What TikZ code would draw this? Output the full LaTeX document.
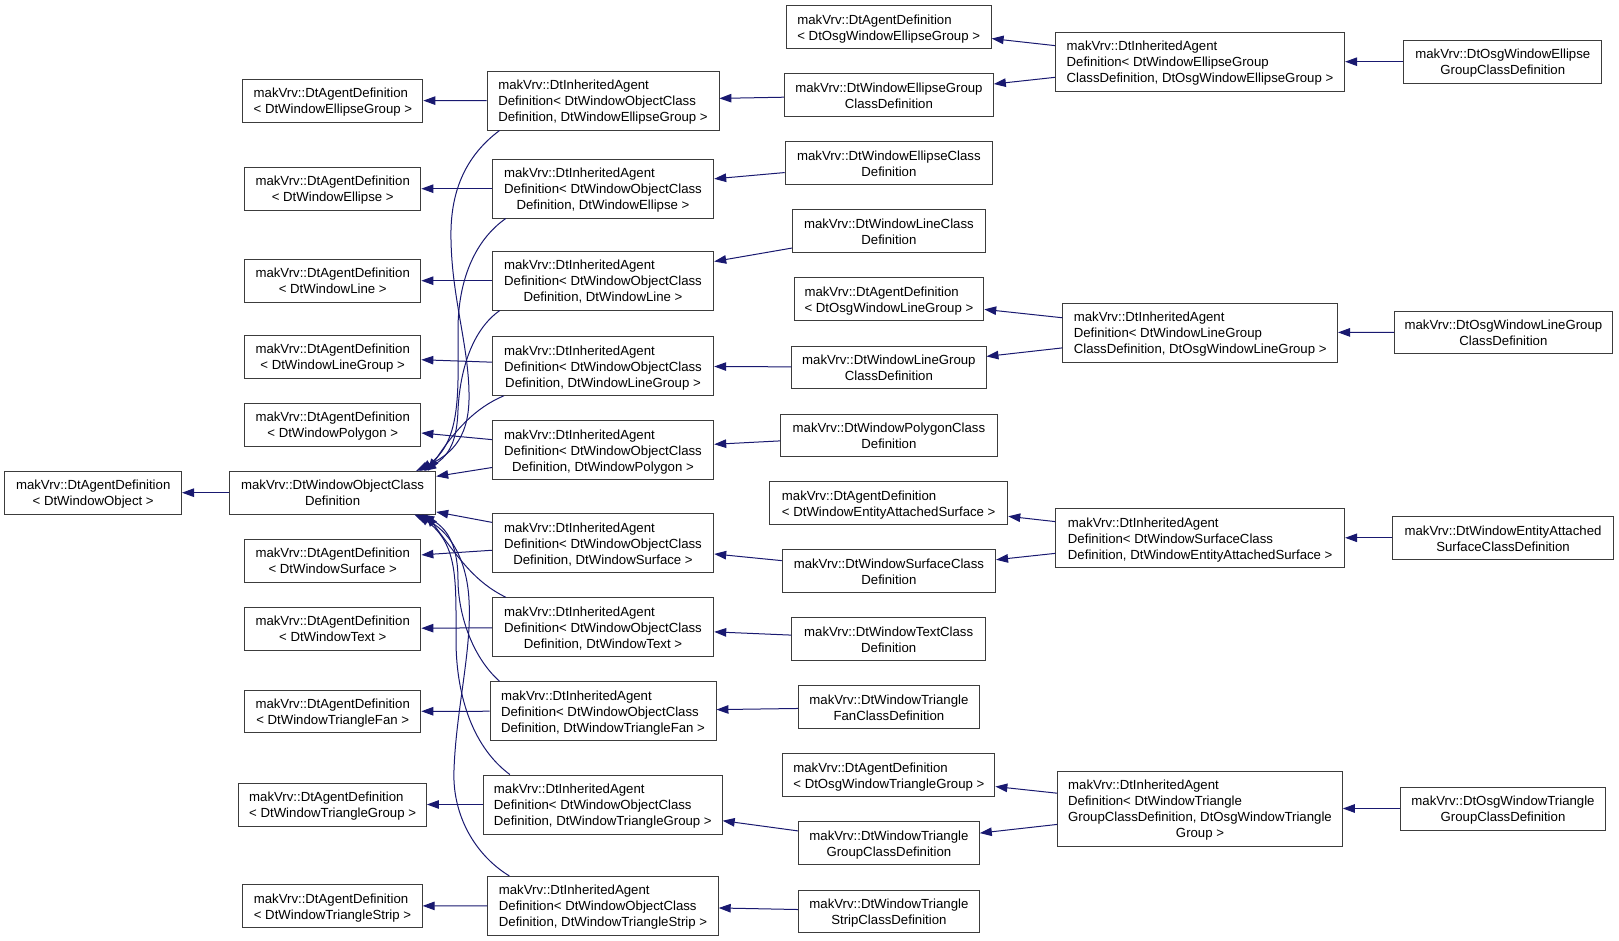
\documentclass[tikz,border=0pt]{standalone}
\usepackage{fontspec}
\setmainfont{Liberation Sans}
\usetikzlibrary{arrows.meta,calc}
\definecolor{mblue}{RGB}{25,25,112}
\definecolor{bord}{RGB}{60,60,60}
\newcommand{\lb}[2]{\raisebox{-2pt}[\height][\depth]{\begin{tabular}{@{}l@{}}#1\\\multicolumn{1}{@{}c@{}}{#2}\end{tabular}}}
\begin{document}
\begin{tikzpicture}[x=1pt,y=-1pt,
  box/.style={draw=bord, line width=0.9pt, fill=white, inner sep=0pt, font=\fontsize{13.2}{16}\selectfont},
  edge/.style={draw=mblue, line width=1pt, -{Triangle[length=12pt,width=8.5pt]}}]
\path[fill=white] (0,0) rectangle (1619,941);
\useasboundingbox (0,0) rectangle (1619,941);
% column 0 / 1
\node[box, minimum width=176.7pt, minimum height=42.7pt] (n0) at (93.2,492.7) {\lb{makVrv::DtAgentDefinition}{< DtWindowObject >}};
\node[box, minimum width=206.3pt, minimum height=42.7pt] (base) at (332.6,492.7) {\lb{makVrv::DtWindowObjectClass}{Definition}};
\node[box, minimum width=180pt, minimum height=42.7pt] (ageg) at (332.9,100.7) {\lb{makVrv::DtAgentDefinition}{< DtWindowEllipseGroup >}};
\node[box, minimum width=176.4pt, minimum height=42.7pt] (age) at (332.7,188.7) {\lb{makVrv::DtAgentDefinition}{< DtWindowEllipse >}};
\node[box, minimum width=176.4pt, minimum height=42.7pt] (agl) at (332.7,280.7) {\lb{makVrv::DtAgentDefinition}{< DtWindowLine >}};
\node[box, minimum width=176.4pt, minimum height=42.7pt] (aglg) at (332.7,356.7) {\lb{makVrv::DtAgentDefinition}{< DtWindowLineGroup >}};
\node[box, minimum width=176.4pt, minimum height=42.7pt] (agp) at (332.7,424.7) {\lb{makVrv::DtAgentDefinition}{< DtWindowPolygon >}};
\node[box, minimum width=176.4pt, minimum height=42.7pt] (ags) at (332.7,560.7) {\lb{makVrv::DtAgentDefinition}{< DtWindowSurface >}};
\node[box, minimum width=176.4pt, minimum height=42.7pt] (agt) at (332.7,628.7) {\lb{makVrv::DtAgentDefinition}{< DtWindowText >}};
\node[box, minimum width=176.4pt, minimum height=42.7pt] (agtf) at (332.7,711.3) {\lb{makVrv::DtAgentDefinition}{< DtWindowTriangleFan >}};
\node[box, minimum width=187.7pt, minimum height=43pt] (agtg) at (332.6,804.5) {\lb{makVrv::DtAgentDefinition}{< DtWindowTriangleGroup >}};
\node[box, minimum width=179.4pt, minimum height=42.7pt] (agts) at (332.5,906) {\lb{makVrv::DtAgentDefinition}{< DtWindowTriangleStrip >}};
% column 2
\node[box, minimum width=231.9pt, minimum height=59pt] (iaeg) at (603,100.5) {\lb{makVrv::DtInheritedAgent\\Definition< DtWindowObjectClass}{Definition, DtWindowEllipseGroup >}};
\node[box, minimum width=221.5pt, minimum height=58.7pt] (iae) at (603,188.7) {\lb{makVrv::DtInheritedAgent\\Definition< DtWindowObjectClass}{Definition, DtWindowEllipse >}};
\node[box, minimum width=221.5pt, minimum height=58.7pt] (ial) at (603,280.7) {\lb{makVrv::DtInheritedAgent\\Definition< DtWindowObjectClass}{Definition, DtWindowLine >}};
\node[box, minimum width=221.5pt, minimum height=58.7pt] (ialg) at (603,366) {\lb{makVrv::DtInheritedAgent\\Definition< DtWindowObjectClass}{Definition, DtWindowLineGroup >}};
\node[box, minimum width=221.5pt, minimum height=58.7pt] (iap) at (603,450) {\lb{makVrv::DtInheritedAgent\\Definition< DtWindowObjectClass}{Definition, DtWindowPolygon >}};
\node[box, minimum width=221.5pt, minimum height=59.4pt] (ias) at (603,543) {\lb{makVrv::DtInheritedAgent\\Definition< DtWindowObjectClass}{Definition, DtWindowSurface >}};
\node[box, minimum width=221.5pt, minimum height=59pt] (iat) at (603,627.2) {\lb{makVrv::DtInheritedAgent\\Definition< DtWindowObjectClass}{Definition, DtWindowText >}};
\node[box, minimum width=226pt, minimum height=59pt] (iatf) at (603,711.2) {\lb{makVrv::DtInheritedAgent\\Definition< DtWindowObjectClass}{Definition, DtWindowTriangleFan >}};
\node[box, minimum width=238.9pt, minimum height=59pt] (iatg) at (602.8,804.5) {\lb{makVrv::DtInheritedAgent\\Definition< DtWindowObjectClass}{Definition, DtWindowTriangleGroup >}};
\node[box, minimum width=230.5pt, minimum height=58.7pt] (iats) at (603,905.7) {\lb{makVrv::DtInheritedAgent\\Definition< DtWindowObjectClass}{Definition, DtWindowTriangleStrip >}};
% column 3
\node[box, minimum width=204.9pt, minimum height=43pt] (agoeg) at (888.7,27.2) {\lb{makVrv::DtAgentDefinition}{< DtOsgWindowEllipseGroup >}};
\node[box, minimum width=209pt, minimum height=42.7pt] (ceg) at (888.9,95.3) {\lb{makVrv::DtWindowEllipseGroup}{ClassDefinition}};
\node[box, minimum width=207.5pt, minimum height=42.7pt] (ce) at (888.9,163.3) {\lb{makVrv::DtWindowEllipseClass}{Definition}};
\node[box, minimum width=192.7pt, minimum height=42.7pt] (cl) at (888.9,231.3) {\lb{makVrv::DtWindowLineClass}{Definition}};
\node[box, minimum width=189.7pt, minimum height=43pt] (agolg) at (888.9,299.2) {\lb{makVrv::DtAgentDefinition}{< DtOsgWindowLineGroup >}};
\node[box, minimum width=194.2pt, minimum height=42.7pt] (clg) at (888.9,367.3) {\lb{makVrv::DtWindowLineGroup}{ClassDefinition}};
\node[box, minimum width=216.3pt, minimum height=42.7pt] (cp) at (888.9,435.3) {\lb{makVrv::DtWindowPolygonClass}{Definition}};
\node[box, minimum width=238.2pt, minimum height=42.7pt] (ageas) at (888.7,503) {\lb{makVrv::DtAgentDefinition}{< DtWindowEntityAttachedSurface >}};
\node[box, minimum width=213.4pt, minimum height=43pt] (cs) at (888.9,571.2) {\lb{makVrv::DtWindowSurfaceClass}{Definition}};
\node[box, minimum width=193.8pt, minimum height=43pt] (ct) at (888.7,639.2) {\lb{makVrv::DtWindowTextClass}{Definition}};
\node[box, minimum width=180.9pt, minimum height=43pt] (ctf) at (888.9,707.2) {\lb{makVrv::DtWindowTriangle}{FanClassDefinition}};
\node[box, minimum width=212pt, minimum height=43pt] (agotg) at (888.9,775.2) {\lb{makVrv::DtAgentDefinition}{< DtOsgWindowTriangleGroup >}};
\node[box, minimum width=180.9pt, minimum height=43pt] (ctg) at (888.9,843.2) {\lb{makVrv::DtWindowTriangle}{GroupClassDefinition}};
\node[box, minimum width=180.9pt, minimum height=42.7pt] (cts) at (888.9,911.3) {\lb{makVrv::DtWindowTriangle}{StripClassDefinition}};
% column 4
\node[box, minimum width=289.3pt, minimum height=58.7pt] (iaoeg) at (1200,61.7) {\lb{makVrv::DtInheritedAgent\\Definition< DtWindowEllipseGroup}{ClassDefinition, DtOsgWindowEllipseGroup >}};
\node[box, minimum width=274.7pt, minimum height=59pt] (iaolg) at (1200.2,332.5) {\lb{makVrv::DtInheritedAgent\\Definition< DtWindowLineGroup}{ClassDefinition, DtOsgWindowLineGroup >}};
\node[box, minimum width=288.9pt, minimum height=59pt] (iaeas) at (1200.2,537.8) {\lb{makVrv::DtInheritedAgent\\Definition< DtWindowSurfaceClass}{Definition, DtWindowEntityAttachedSurface >}};
\node[box, minimum width=284.7pt, minimum height=75pt] (iaotg) at (1200,808.5) {\lb{makVrv::DtInheritedAgent\\Definition< DtWindowTriangle\\GroupClassDefinition, DtOsgWindowTriangle}{Group >}};
% column 5
\node[box, minimum width=197.8pt, minimum height=42.7pt] (coeg) at (1502.8,61.7) {\lb{makVrv::DtOsgWindowEllipse}{GroupClassDefinition}};
\node[box, minimum width=217.9pt, minimum height=42.7pt] (colg) at (1503.4,332.3) {\lb{makVrv::DtOsgWindowLineGroup}{ClassDefinition}};
\node[box, minimum width=220.3pt, minimum height=43pt] (ceas) at (1503,537.8) {\lb{makVrv::DtWindowEntityAttached}{SurfaceClassDefinition}};
\node[box, minimum width=204.5pt, minimum height=43pt] (cotg) at (1503,808.5) {\lb{makVrv::DtOsgWindowTriangle}{GroupClassDefinition}};
% straight edges
\draw[edge] (base) -- (n0);
\draw[edge] (iaeg) -- (ageg);
\draw[edge] (iae) -- (age);
\draw[edge] (ial) -- (agl);
\draw[edge] (ialg) -- (aglg);
\draw[edge] (iap) -- (agp);
\draw[edge] (ias) -- (ags);
\draw[edge] (iat) -- (agt);
\draw[edge] (iatf) -- (agtf);
\draw[edge] (iatg) -- (agtg);
\draw[edge] (iats) -- (agts);
\draw[edge] (iap) -- (base);
\draw[edge] (ias) -- (base);
\draw[edge] (ceg) -- (iaeg);
\draw[edge] (ce) -- (iae);
\draw[edge] (cl) -- (ial);
\draw[edge] (clg) -- (ialg);
\draw[edge] (cp) -- (iap);
\draw[edge] (cs) -- (ias);
\draw[edge] (ct) -- (iat);
\draw[edge] (ctf) -- (iatf);
\draw[edge] (ctg) -- (iatg);
\draw[edge] (cts) -- (iats);
\draw[edge] (iaoeg) -- (agoeg);
\draw[edge] (iaoeg) -- (ceg);
\draw[edge] (coeg) -- (iaoeg);
\draw[edge] (iaolg) -- (agolg);
\draw[edge] (iaolg) -- (clg);
\draw[edge] (colg) -- (iaolg);
\draw[edge] (iaeas) -- (ageas);
\draw[edge] (iaeas) -- (cs);
\draw[edge] (ceas) -- (iaeas);
\draw[edge] (iaotg) -- (agotg);
\draw[edge] (iaotg) -- (ctg);
\draw[edge] (cotg) -- (iaotg);
% curved edges to base (upper)
\draw[edge] ($(iaeg.south west)+(13,0)$) .. controls (460,160) and (450,200) .. (451,240) .. controls (452,300) and (470,350) .. (469,400) .. controls (468,440) and (450,455) .. ($(base.north east)+(-20,0)$);
\draw[edge] ($(iae.south west)+(14,0)$) .. controls (475,240) and (458,280) .. (458,330) .. controls (458,390) and (462,440) .. ($(base.north east)+(-16,0)$);
\draw[edge] ($(ial.south west)+(8,0)$) .. controls (472,330) and (460,370) .. (458,410) .. controls (457,440) and (450,455) .. ($(base.north east)+(-12,0)$);
\draw[edge] ($(ialg.south west)+(12,0)$) .. controls (475,408) and (455,430) .. ($(base.north east)+(-8,0)$);
% curved edges to base (lower)
\draw[edge] ($(iat.north west)+(14,0)$) .. controls (475,582) and (460,560) .. ($(base.south east)+(-10,0)$);
\draw[edge] ($(iatf.north west)+(10,0)$) .. controls (470,655) and (458,610) .. (458,580) .. controls (458,550) and (450,530) .. ($(base.south east)+(-14,0)$);
\draw[edge] ($(iatg.north west)+(27,0)$) .. controls (470,745) and (456,690) .. (456,640) .. controls (456,580) and (458,545) .. ($(base.south east)+(-18,0)$);
\draw[edge] ($(iats.north west)+(22,0)$) .. controls (475,855) and (452,815) .. (454,770) .. controls (456,710) and (472,650) .. (469,600) .. controls (467,560) and (450,530) .. ($(base.south east)+(-22,0)$);
\end{tikzpicture}
\end{document}
